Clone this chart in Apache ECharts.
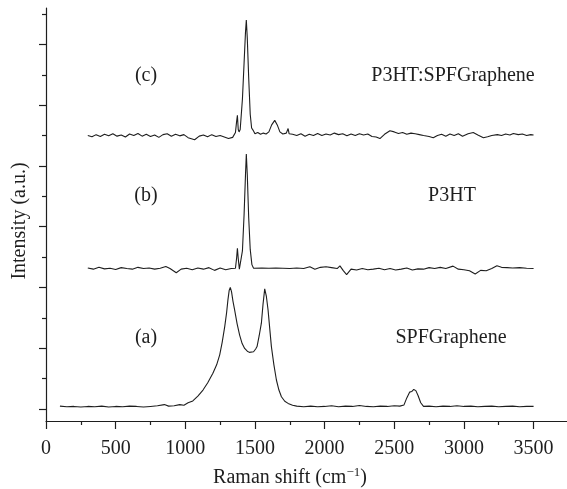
<!DOCTYPE html>
<html>
<head>
<meta charset="utf-8">
<title>Raman</title>
<script src="https://cdn.jsdelivr.net/npm/echarts@6/dist/echarts.min.js"></script>
<style>
 html, body { margin: 0; padding: 0; background: #fff; }
 .echarts_1 { width: 567px; height: 489px; }
</style>
</head>
<body>
<div class="echarts_1"></div>
<script>
// 刻度
var xMajorTicks = [0, 500, 1000, 1500, 2000, 2500, 3000, 3500];
var xMinorTicks = [250, 750, 1250, 1750, 2250, 2750, 3250];
var yMajorTicks = [0, 2, 4, 6, 8, 10, 12];
var yMinorTicks = [1, 3, 5, 7, 9, 11, 13];

// (a) SPFGraphene
var spfX = [100,150,200,250,300,350,400,450,500,550,600,650,700,750,800,850,880,920,960,990,
 1020,1054,1090,1127,1160,1198,1225,1247,1265,1283,1296,1306,1315,1323,1332,1342,1354,1372,1390,1408,
 1426,1445,1460,1474,1490,1505,1515,1530,1546,1558,1570,1582,1594,1606,1618,1636,1654,1672,1690,1714,
 1738,1770,1800,1850,1900,1950,2000,2050,2100,2150,2200,2250,2300,2350,2400,2450,2500,2540,2570,2590,
 2610,2625,2640,2655,2670,2690,2710,2750,2800,2850,2900,2950,3000,3050,3100,3150,3200,3250,3300,3350,
 3400,3450,3500];
var spfY = [0.09,0.07,0.08,0.06,0.08,0.07,0.09,0.06,0.08,0.07,0.09,0.08,0.06,0.08,0.10,0.14,0.09,0.10,0.14,0.12,
 0.20,0.26,0.42,0.62,0.85,1.17,1.45,1.78,2.20,2.71,3.15,3.59,3.90,4.00,3.85,3.55,3.26,2.80,2.43,2.15,
 1.99,1.90,1.86,1.83,1.88,1.97,2.05,2.40,2.82,3.45,3.95,3.70,3.26,2.65,2.05,1.45,0.95,0.62,0.40,0.25,
 0.18,0.12,0.09,0.07,0.09,0.07,0.08,0.10,0.07,0.09,0.08,0.11,0.08,0.07,0.09,0.08,0.10,0.09,0.13,0.36,
 0.55,0.57,0.64,0.60,0.45,0.20,0.08,0.09,0.07,0.09,0.08,0.10,0.08,0.09,0.07,0.08,0.09,0.07,0.08,0.09,
 0.07,0.08,0.08];

// (b) P3HT
var p3htX = [300,340,380,420,460,500,540,580,620,660,700,740,780,820,860,890,935,970,1010,1050,
 1090,1130,1170,1210,1250,1290,1330,1360,1368,1374,1380,1388,1396,1410,1422,1432,1438,1445,1455,1466,
 1478,1490,1550,1600,1650,1700,1750,1800,1850,1894,1930,1970,2010,2050,2090,2110,2134,2158,2190,2230,
 2270,2310,2350,2390,2430,2470,2510,2550,2590,2630,2670,2710,2750,2790,2830,2870,2922,2960,3000,3040,
 3081,3120,3160,3200,3237,3270,3310,3350,3400,3450,3500];
var p3htY = [4.64,4.60,4.66,4.61,4.63,4.59,4.65,4.62,4.60,4.66,4.62,4.64,4.60,4.63,4.69,4.62,4.48,4.60,4.63,4.58,
 4.64,4.60,4.65,4.56,4.64,4.58,4.62,4.63,4.95,5.29,4.95,4.60,4.63,5.20,6.40,7.70,8.39,7.70,6.30,5.25,
 4.75,4.63,4.64,4.63,4.64,4.63,4.62,4.64,4.62,4.68,4.60,4.66,4.68,4.65,4.62,4.71,4.55,4.42,4.60,4.57,
 4.62,4.58,4.60,4.63,4.58,4.62,4.57,4.60,4.64,4.57,4.61,4.60,4.65,4.62,4.66,4.62,4.70,4.60,4.58,4.55,
 4.44,4.56,4.55,4.62,4.71,4.66,4.65,4.64,4.65,4.63,4.62];

// (c) P3HT:SPFGraphene
var mixX = [300,330,360,390,420,450,480,510,540,570,600,630,660,690,720,750,780,810,840,870,
 900,930,960,990,1020,1067,1100,1130,1160,1190,1220,1250,1280,1310,1340,1360,1368,1374,1380,1386,
 1394,1410,1422,1432,1438,1445,1455,1466,1476,1486,1500,1520,1540,1560,1580,1600,1620,1642,1660,1679,
 1700,1725,1738,1745,1770,1800,1830,1860,1890,1920,1950,1980,2010,2040,2070,2100,2130,2160,2190,2220,
 2250,2280,2310,2340,2370,2397,2430,2469,2500,2530,2560,2590,2620,2650,2680,2710,2750,2780,2810,2840,
 2870,2900,2930,2960,2990,3030,3067,3100,3140,3170,3200,3240,3270,3300,3330,3355,3390,3420,3450,3480,
 3500];
var mixY = [9.00,8.96,9.03,8.97,9.04,8.99,9.06,8.98,9.02,8.95,9.05,9.00,9.07,8.98,9.04,8.97,9.02,8.94,9.03,9.06,
 8.98,9.04,8.99,9.03,8.93,8.86,8.98,9.02,8.96,9.03,8.97,9.00,8.95,8.90,8.94,9.10,9.45,9.67,9.20,9.12,
 9.20,10.2,11.4,12.4,12.8,12.2,10.9,9.70,9.25,9.18,9.06,9.10,9.04,9.08,9.05,9.12,9.35,9.50,9.35,9.12,
 9.05,9.08,9.23,9.06,9.04,9.00,9.06,8.98,9.04,9.00,9.07,9.00,9.05,9.02,9.08,9.03,9.06,8.99,9.05,9.00,
 9.06,9.02,9.05,8.97,8.95,8.90,9.04,9.16,9.12,9.07,9.10,9.04,9.08,9.06,9.03,9.00,8.97,8.93,9.00,9.04,
 8.98,9.05,9.00,9.06,8.98,9.06,9.10,9.02,8.93,8.96,9.00,9.03,9.00,9.05,9.02,9.07,9.03,9.05,9.00,9.03,
 9.02];

function pairs(xs, ys) {
  var out = [];
  for (var i = 0; i < xs.length; i++) out.push([xs[i], ys[i]]);
  return out;
}

var myChart1 = echarts.init(document.querySelector(".echarts_1"));
var serif = '"Liberation Serif", "DejaVu Serif", serif';
var ink = '#1e1e1e';

var lineStyle = { color: ink, width: 1.1 };
function spectrum(name, data) {
  return {
    name: name, type: 'line', data: data, symbol: 'none',
    lineStyle: lineStyle, silent: true, animation: false
  };
}

function noteText(x, y, text) {
  return { type: 'text', x: x, y: y, style: { text: text, font: '20px ' + serif, fill: ink, align: 'center', verticalAlign: 'middle' } };
}

var option1 = {
  animation: false,
  grid: { left: 46, right: 0, top: 8, bottom: 68, outerBoundsMode: 'none' },
  xAxis: [{
    type: 'value', min: 0, max: 3740,
    name: '{t|Raman shift (cm}{s|−1}{t|)}',
    nameLocation: 'middle', nameGap: 45,
    nameTextStyle: {
      padding: [0, 33, 0, 0],
      rich: {
        t: { fontFamily: serif, fontSize: 20, color: ink },
        s: { fontFamily: serif, fontSize: 13, color: ink, padding: [0, 0, 10, 0] }
      }
    },
    axisLine: { onZero: false, lineStyle: { color: ink, width: 1.2 } },
    axisTick: { customValues: xMajorTicks, length: 8, lineStyle: { color: ink, width: 1.2 } },
    axisLabel: {
      customValues: xMajorTicks, margin: 18, fontFamily: serif, fontSize: 20, color: ink,
      formatter: function (v) { return String(v); }
    },
    splitLine: { show: false }
  }, {
    type: 'value', min: 0, max: 3740, position: 'bottom',
    axisLine: { show: false, onZero: false },
    axisTick: { customValues: xMinorTicks, length: 4, lineStyle: { color: ink, width: 1.2 } },
    axisLabel: { show: false },
    splitLine: { show: false }
  }],
  yAxis: [{
    type: 'value', min: -0.4, max: 13.2,
    name: 'Intensity (a.u.)', nameLocation: 'middle', nameGap: 16,
    nameTextStyle: { fontFamily: serif, fontSize: 20, color: ink, padding: [0, 13, 0, 0] },
    axisLine: { onZero: false, lineStyle: { color: ink, width: 1.2 } },
    axisTick: { customValues: yMajorTicks, length: 7, lineStyle: { color: ink, width: 1.2 } },
    axisLabel: { show: false },
    splitLine: { show: false }
  }, {
    type: 'value', min: -0.4, max: 13.2, position: 'left',
    axisLine: { show: false, onZero: false },
    axisTick: { customValues: yMinorTicks, length: 4, lineStyle: { color: ink, width: 1.2 } },
    axisLabel: { show: false },
    splitLine: { show: false }
  }],
  graphic: [
    noteText(146, 76, '(c)'),
    noteText(453, 76, 'P3HT:SPFGraphene'),
    noteText(146, 196, '(b)'),
    noteText(452, 196, 'P3HT'),
    noteText(146, 338, '(a)'),
    noteText(451, 338, 'SPFGraphene')
  ],
  series: [
    spectrum('SPFGraphene', pairs(spfX, spfY)),
    spectrum('P3HT', pairs(p3htX, p3htY)),
    spectrum('P3HT:SPFGraphene', pairs(mixX, mixY))
  ]
};

myChart1.setOption(option1);
</script>
</body>
</html>
